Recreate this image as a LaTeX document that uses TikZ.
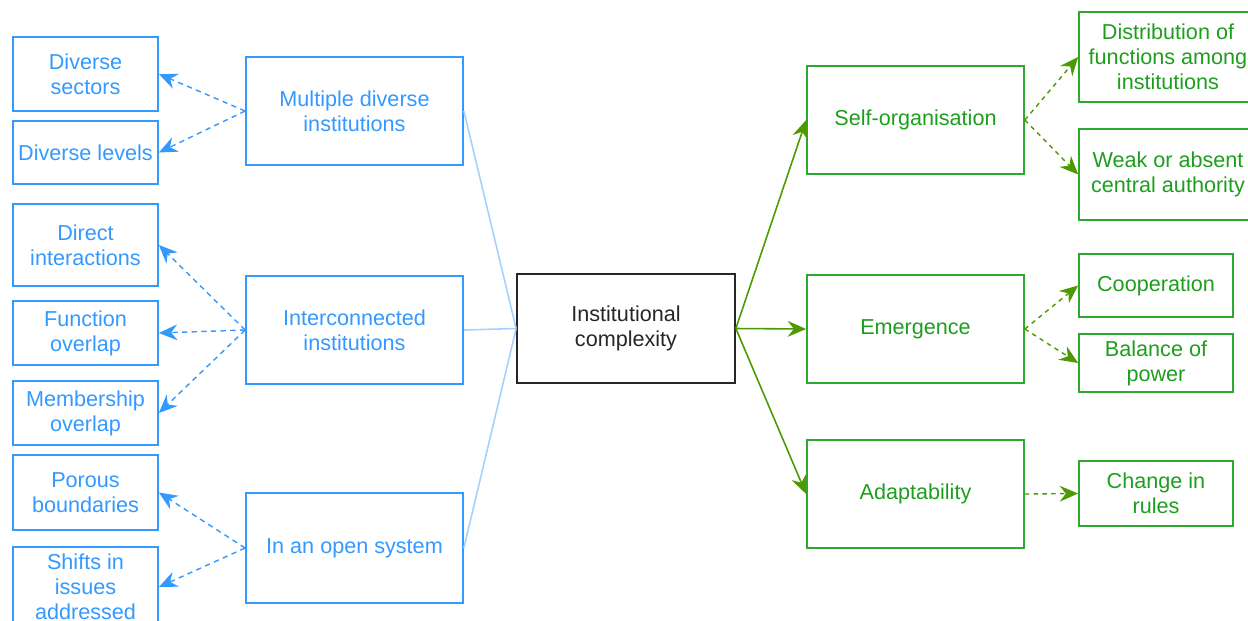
\documentclass[tikz,border=0pt]{standalone}
\usepackage{fontspec}
\setmainfont{Liberation Sans}
\usetikzlibrary{arrows.meta}

\definecolor{boxblue}{HTML}{3399FF}
\definecolor{lineblue}{HTML}{A6D0FF}
\definecolor{boxgreen}{HTML}{2EA82E}
\definecolor{textgreen}{HTML}{1E9E1E}
\definecolor{arrowgreen}{HTML}{4D9900}

\tikzset{
    box/.style={draw, line width=1pt, inner sep=2pt, align=center,
        font=\fontsize{12.3}{14.2}\selectfont},
    bluebox/.style={box, draw=boxblue, text=boxblue},
    greenbox/.style={box, draw=boxgreen, text=textgreen},
    mainbox/.style={box, draw=black!85, text=black!85},
    leaf/.style={minimum width=2.9cm},
    branch/.style={minimum width=4.34cm, minimum height=2.16cm},
    pointer/.style={-{Stealth[length=10.5pt, width=9pt, inset=3.5pt]}},
    bluedash/.style={pointer, boxblue, line width=0.8pt, dash pattern=on 3pt off 2.5pt},
    greendash/.style={pointer, arrowgreen, line width=0.8pt, dash pattern=on 2.5pt off 2.5pt},
}

\begin{document}
\begin{tikzpicture}[x=0.02cm, y=-0.02cm]
    \useasboundingbox (0,0) rectangle (1248,620);

    % centre
    \node[mainbox, minimum width=4.36cm, minimum height=2.18cm] (complexity) at (626,328.5) {Institutional\\complexity};

    % left branches
    \node[bluebox, branch] (multiple) at (354.5,111) {Multiple diverse\\institutions};
    \node[bluebox, branch] (connected) at (354.5,330) {Interconnected\\institutions};
    \node[bluebox, branch, minimum height=2.2cm] (open) at (354.5,548) {In an open system};

    % left leaves
    \node[bluebox, leaf, minimum height=1.48cm] (sectors) at (85.5,74) {Diverse\\sectors};
    \node[bluebox, leaf, minimum height=1.26cm] (levels) at (85.5,152.5) {Diverse levels};
    \node[bluebox, leaf, minimum height=1.64cm] (direct) at (85.5,245) {Direct\\interactions};
    \node[bluebox, leaf, minimum height=1.28cm] (function) at (85.5,333) {Function\\overlap};
    \node[bluebox, leaf, minimum height=1.28cm] (membership) at (85.5,413) {Membership\\overlap};
    \node[bluebox, leaf, minimum height=1.5cm] (porous) at (85.5,492.5) {Porous\\boundaries};
    \node[bluebox, leaf, minimum height=1.6cm] (shifts) at (85.5,587) {Shifts in\\issues\\addressed};

    % right branches
    \node[greenbox, branch] (selforg) at (915.5,120) {Self-organisation};
    \node[greenbox, branch] (emergence) at (915.5,329) {Emergence};
    \node[greenbox, branch] (adapt) at (915.5,494) {Adaptability};

    % right leaves
    \node[greenbox, minimum width=3.56cm, minimum height=1.8cm] (distribution) at (1168,57) {Distribution of\\functions among\\institutions};
    \node[greenbox, minimum width=3.56cm, minimum height=1.82cm] (weak) at (1168,174.5) {Weak or absent\\central authority};
    \node[greenbox, minimum width=3.08cm, minimum height=1.26cm] (cooperation) at (1156,285.5) {Cooperation};
    \node[greenbox, minimum width=3.08cm, minimum height=1.16cm] (balance) at (1156,363) {Balance of\\power};
    \node[greenbox, minimum width=3.08cm, minimum height=1.3cm] (rules) at (1156,493.5) {Change in\\rules};

    % centre to branches
    \foreach \b in {multiple, connected, open}
        \draw[lineblue, line width=0.9pt] (complexity.west) -- (\b.east);
    \foreach \b in {selforg, emergence, adapt}
        \draw[pointer, arrowgreen, line width=0.9pt] (complexity.east) -- (\b.west);

    % branches to leaves
    \foreach \l in {sectors, levels}
        \draw[bluedash] (multiple.west) -- (\l.east);
    \foreach \l in {direct, function, membership}
        \draw[bluedash] (connected.west) -- (\l.east);
    \foreach \l in {porous, shifts}
        \draw[bluedash] (open.west) -- (\l.east);
    \foreach \l in {distribution, weak}
        \draw[greendash] (selforg.east) -- (\l.west);
    \foreach \l in {cooperation, balance}
        \draw[greendash] (emergence.east) -- (\l.west);
    \draw[greendash] (adapt.east) -- (rules.west);
\end{tikzpicture}
\end{document}
